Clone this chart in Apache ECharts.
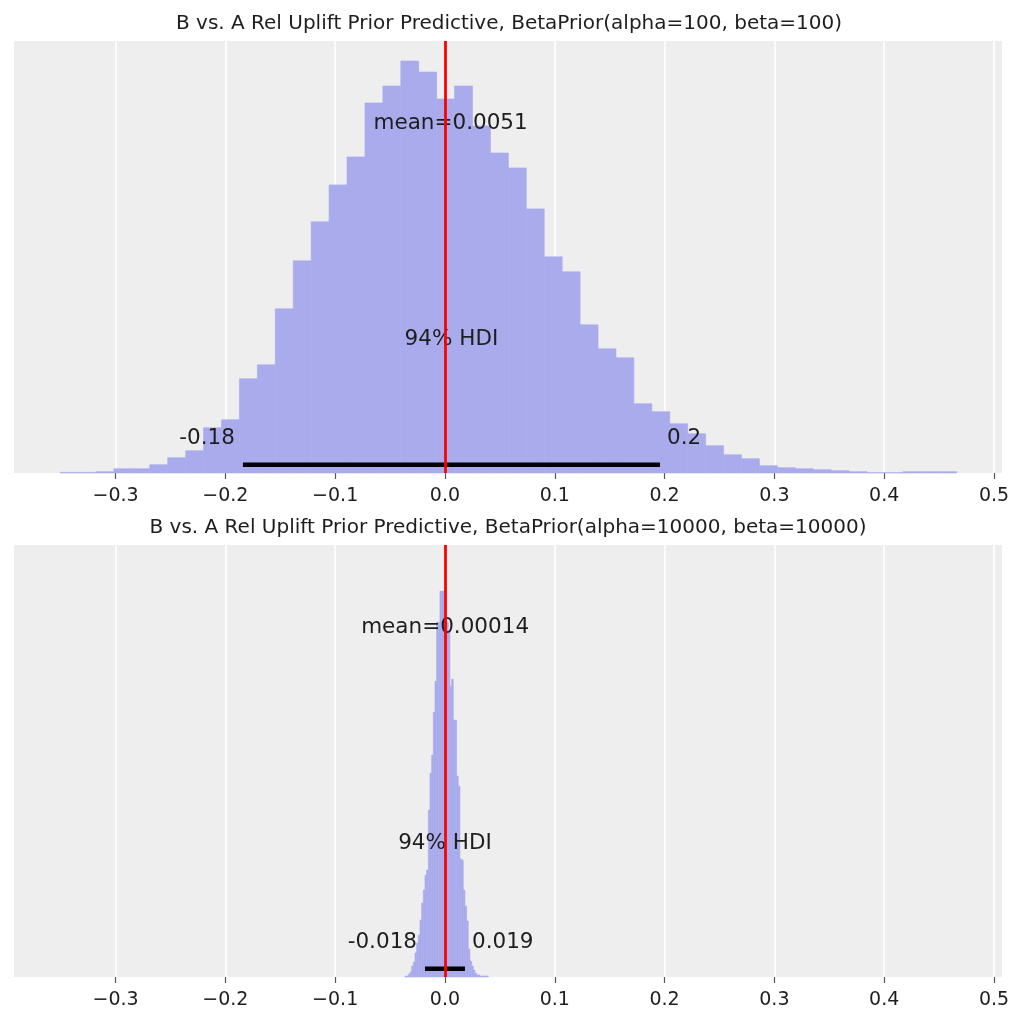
<!DOCTYPE html>
<html>
<head>
<meta charset="utf-8">
<script src="https://cdn.jsdelivr.net/npm/echarts@6/dist/echarts.min.js"></script>
<style>
  html, body { margin: 0; padding: 0; background: #fff; }
  #chart { width: 1024px; height: 1024px; }
</style>
</head>
<body>
<div id="chart"></div>
<script>
// panel titles
var titles = [
    'B vs. A Rel Uplift Prior Predictive, BetaPrior(alpha=100, beta=100)',
    'B vs. A Rel Uplift Prior Predictive, BetaPrior(alpha=10000, beta=10000)'
];
var tickValues = [-0.3, -0.2, -0.1, 0.0, 0.1, 0.2, 0.3, 0.4, 0.5];

// histogram A (alpha=100): 50 equal bins
var binStartA = -0.3505;
var binWidthA = 0.01633;
var heightsA = [0.7, 0.7, 1.3, 4.3, 4.3, 8.3, 15.3, 22.3, 45.3, 53.3,
    94.3, 108.3, 164.3, 212.3, 251.3, 288.3, 316.3, 370.3, 387.3, 412.3,
    401.3, 374.3, 387.3, 347.3, 320.3, 305.3, 264.3, 216.3, 201.3, 148.3,
    124.3, 115.3, 69.3, 61.3, 49.3, 39.3, 27.3, 18.3, 14.3, 7.3,
    5.3, 4.3, 3.3, 2.3, 1.3, 0.3, 0.3, 1.3, 1.3, 1.3];

// histogram B (alpha=10000): 50 equal bins
var binStartB = -0.03643;
var binWidthB = 0.001517;
var heightsB = [1, 1, 3, 5, 11, 15, 24, 34, 42, 57,
    74, 87, 102, 107, 167, 204, 222, 265, 296, 355,
    355, 386, 386, 386, 360, 355, 345, 291, 298, 257,
    257, 201, 191, 118, 117, 87, 71, 56, 28, 16,
    11, 7, 4, 2, 2, 1, 1, 1, 1, 1];

var refValue = 0;
var means = [0.0051, 0.00014];
var meanLabels = ['mean=0.0051', 'mean=0.00014'];
var hdis = [[-0.184, 0.1958], [-0.0182, 0.0182]];
var hdiLabels = [['-0.18', '0.2'], ['-0.018', '0.019']];
var yMaxes = [432.3, 432.3];

var barColor = '#a9abec';
var textColor = '#1e1e1e';
var font = 'DejaVu Sans';

function histData(start, width, heights) {
    return heights.map(function (h, i) {
        return [start + i * width, start + (i + 1) * width, h];
    });
}

function renderHist(params, api) {
    var p0 = api.coord([api.value(0), 0]);
    var p1 = api.coord([api.value(1), api.value(2)]);
    return {
        type: 'rect',
        shape: { x: p0[0], y: p1[1], width: p1[0] - p0[0], height: p0[1] - p1[1] },
        style: { fill: barColor, stroke: barColor, lineWidth: 0.6 }
    };
}

function fmtTick(v) {
    var s = Math.abs(v).toFixed(1);
    return (v < -1e-9 ? '\u2212' : '') + s;
}

var chart = echarts.init(document.getElementById('chart'));
var gridTops = [41, 545];
var titleLefts = [504, 503];
var grids = [], xAxes = [], yAxes = [], series = [], titleOpts = [];
var hists = [histData(binStartA, binWidthA, heightsA), histData(binStartB, binWidthB, heightsB)];

for (var p = 0; p < 2; p++) {
    var ym = yMaxes[p];
    titleOpts.push({
        text: titles[p], left: titleLefts[p], top: gridTops[p] - 32, textAlign: 'center',
        textStyle: { fontFamily: font, fontSize: 20, fontWeight: 'normal', color: textColor }
    });
    grids.push({
        left: 14, right: 22, top: gridTops[p], height: 432,
        show: true, backgroundColor: '#eeeeee', borderWidth: 0
    });
    xAxes.push({
        gridIndex: p, type: 'value', min: -0.3925, max: 0.5073, splitNumber: 9,
        axisLine: { show: false },
        axisTick: { show: true, length: 6, customValues: tickValues, lineStyle: { color: '#555', width: 1.2 } },
        axisLabel: {
            customValues: tickValues, formatter: fmtTick, margin: 14,
            fontFamily: font, fontSize: 19, color: textColor
        },
        splitLine: { show: true, lineStyle: { color: '#ffffff', width: 1.6 } }
    });
    yAxes.push({
        gridIndex: p, type: 'value', min: 0, max: ym, show: false,
        splitLine: { show: false }
    });
    series.push({
        type: 'custom', xAxisIndex: p, yAxisIndex: p, renderItem: renderHist,
        encode: { x: [0, 1], y: 2 }, data: hists[p], z: 2
    });
    // HDI bar
    series.push({
        type: 'line', xAxisIndex: p, yAxisIndex: p, symbol: 'none', z: 3,
        lineStyle: { color: '#000', width: 4.5, cap: 'butt' },
        data: [[hdis[p][0], 0.019 * ym], [hdis[p][1], 0.019 * ym]]
    });
    // annotations
    var mid = (hdis[p][0] + hdis[p][1]) / 2;
    series.push({
        type: 'scatter', xAxisIndex: p, yAxisIndex: p, symbolSize: 0, z: 4,
        silent: true,
        itemStyle: { opacity: 1 },
        label: {
            show: true, position: 'inside', formatter: '{b}', opacity: 1,
            fontFamily: font, fontSize: 21.5, color: textColor,
            textBorderWidth: 0
        },
        data: [
            { name: meanLabels[p], value: [means[p], 0.81 * ym] },
            { name: '94% HDI', value: [mid, 0.31 * ym] },
            { name: hdiLabels[p][0], value: [hdis[p][0], 0.08 * ym], label: { align: 'right', offset: [-8, 0] } },
            { name: hdiLabels[p][1], value: [hdis[p][1], 0.08 * ym], label: { align: 'left', offset: [7, 0] } }
        ]
    });
    // reference line
    series.push({
        type: 'line', xAxisIndex: p, yAxisIndex: p, data: [], z: 5,
        markLine: {
            silent: true, symbol: 'none', animation: false,
            label: { show: false },
            lineStyle: { color: '#ff0000', width: 2.8, type: 'solid' },
            data: [{ xAxis: refValue }]
        }
    });
}

chart.setOption({
    animation: false,
    title: titleOpts,
    grid: grids,
    xAxis: xAxes,
    yAxis: yAxes,
    series: series
});
</script>
</body>
</html>
